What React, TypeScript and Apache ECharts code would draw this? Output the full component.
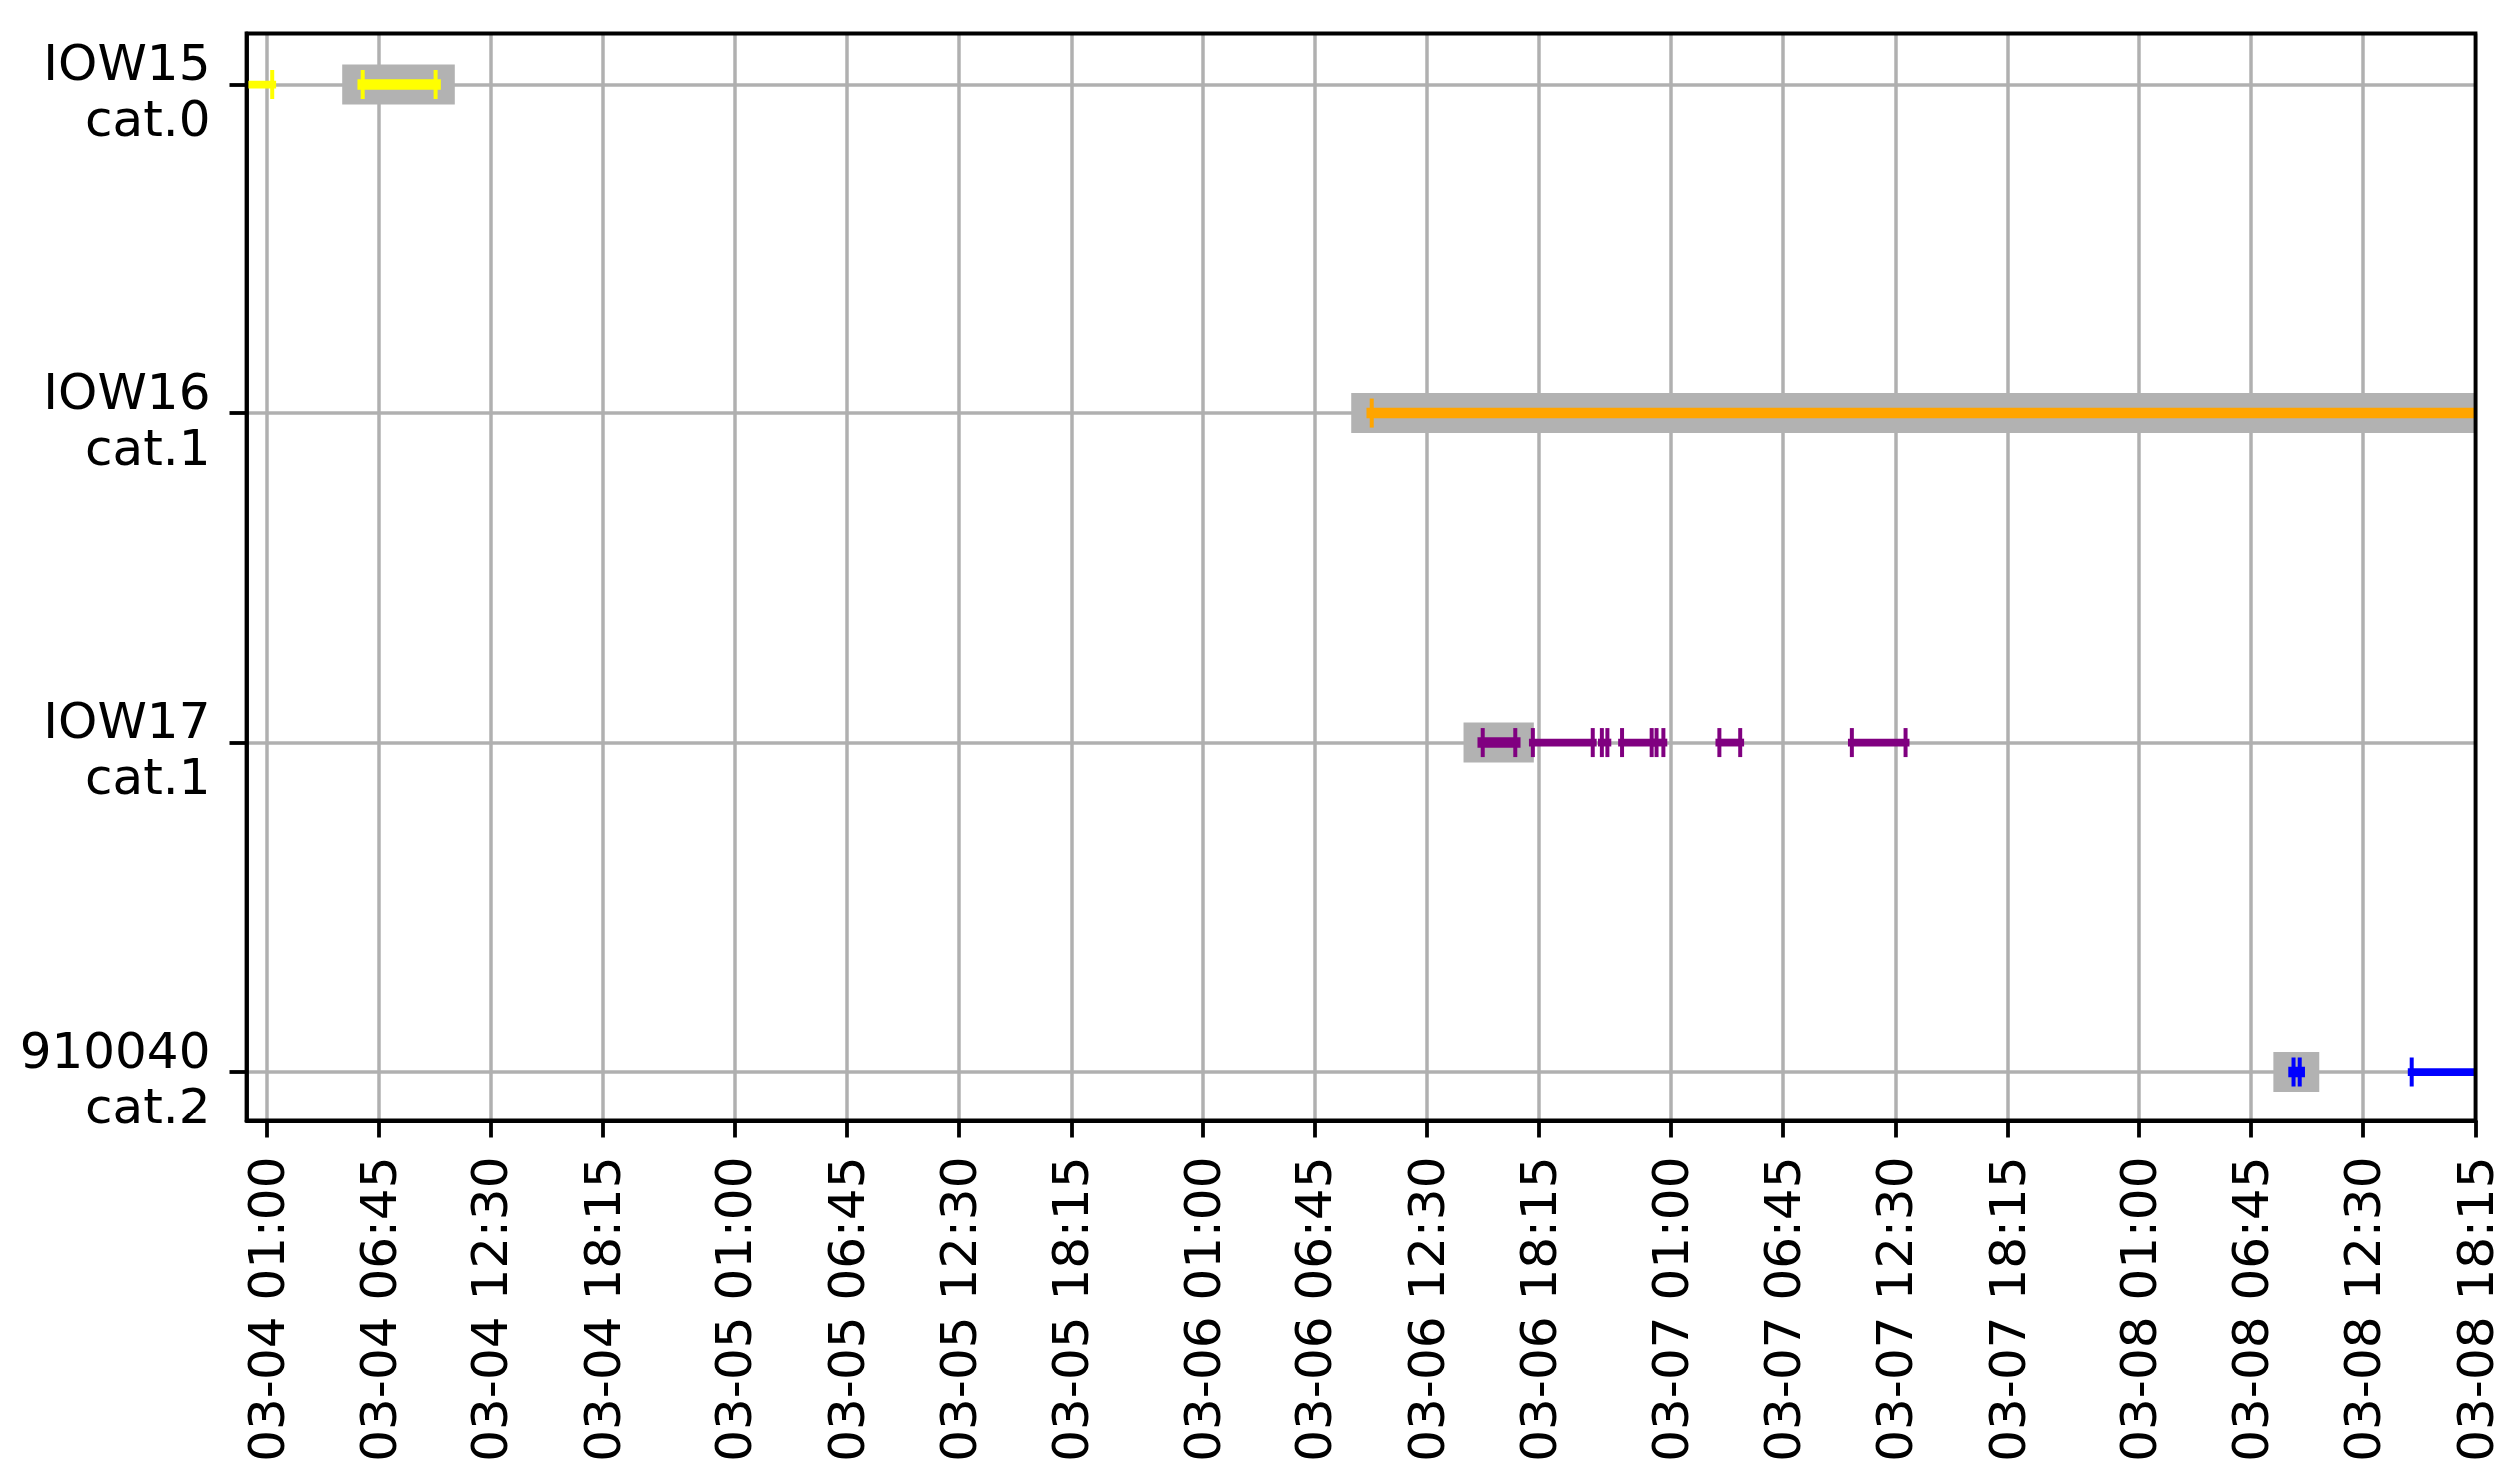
import React, { useEffect, useRef } from "react";
import * as echarts from "echarts";

// ---- data ----
const rowNames = ["IOW15", "IOW16", "IOW17", "910040"];
const rowCats = ["cat.0", "cat.1", "cat.1", "cat.2"];
const rowColors = ["#ffff00", "#ffa500", "#800080", "#0000ff"];

// time window of the x axis
const xStart = "03-03 23:58";
const xEnd = "03-08 18:15";

// tick labels on the time axis
const xTickLabels = [
  "03-04 01:00", "03-04 06:45", "03-04 12:30", "03-04 18:15",
  "03-05 01:00", "03-05 06:45", "03-05 12:30", "03-05 18:15",
  "03-06 01:00", "03-06 06:45", "03-06 12:30", "03-06 18:15",
  "03-07 01:00", "03-07 06:45", "03-07 12:30", "03-07 18:15",
  "03-08 01:00", "03-08 06:45", "03-08 12:30", "03-08 18:15",
];

// row index, start, end of each active interval
const segRows = [0, 0, 1, 2, 2, 2, 2, 2, 2, 2, 3, 3];
const segStarts = [
  "03-03 23:40", "03-04 05:55",
  "03-06 09:41",
  "03-06 15:22", "03-06 17:56", "03-06 21:28", "03-06 22:30", "03-07 00:16", "03-07 03:29", "03-07 10:16",
  "03-08 08:56", "03-08 14:59",
];
const segEnds = [
  "03-04 01:17", "03-04 09:42",
  "03-08 21:00",
  "03-06 17:02", "03-06 21:00", "03-06 21:45", "03-07 00:01", "03-07 00:37", "03-07 04:33", "03-07 13:01",
  "03-08 09:15", "03-08 21:00",
];

// highlighted windows (grey boxes)
const hlRows = [0, 1, 2, 3];
const hlStarts = ["03-04 04:52", "03-06 08:38", "03-06 14:23", "03-08 07:54"];
const hlEnds = ["03-04 10:41", "03-08 22:00", "03-06 17:59", "03-08 10:15"];

// ---- helpers ----
const T = (s: string) => {
  const [md, hm] = s.split(" ");
  const [mo, d] = md.split("-").map(Number);
  const [h, m] = hm.split(":").map(Number);
  return Date.UTC(2021, mo - 1, d, h, m);
};
const pad = (n: number) => (n < 10 ? "0" + n : "" + n);
const fmt = (v: number) => {
  const d = new Date(v);
  return `${pad(d.getUTCMonth() + 1)}-${pad(d.getUTCDate())} ${pad(d.getUTCHours())}:${pad(d.getUTCMinutes())}`;
};

const FONT = "DejaVu Sans";
const FS = 50;

export default function App() {
  const ref = useRef<HTMLDivElement>(null);
  useEffect(() => {
    document.body.style.margin = "0";
    if (!ref.current) return;
    const chart = echarts.init(ref.current, null, { renderer: "svg" });

    const hlData = hlRows.map((r, i) => [T(hlStarts[i]), T(hlEnds[i]), r]);
    const segData = segRows.map((r, i) => {
      const s = T(segStarts[i]);
      const e = T(segEnds[i]);
      const inHl = hlData.some((h) => h[2] === r && s >= h[0] && e <= h[1]) ? 1 : 0;
      return [s, e, r, inHl];
    });
    const xTicks = xTickLabels.map(T);
    const yTicks = rowNames.map((_, i) => i);

    chart.setOption({
      animation: false,
      backgroundColor: "#ffffff",
      grid: {
        left: 246.5,
        right: 38.5,
        top: 33.5,
        bottom: 363.5,
        containLabel: false,
        outerBoundsMode: "none",
      },
      xAxis: {
        type: "value",
        min: T(xStart),
        max: T(xEnd),
        axisLine: { show: true, onZero: false, lineStyle: { color: "#000", width: 3.8 } },
        axisTick: {
          show: true,
          customValues: xTicks,
          length: 17,
          lineStyle: { color: "#000", width: 3.8 },
        },
        axisLabel: {
          show: true,
          customValues: xTicks,
          formatter: (v: number) => fmt(v),
          rotate: 90,
          margin: 36,
          fontFamily: FONT,
          fontSize: FS,
          color: "#000",
        },
        splitLine: { show: true, lineStyle: { color: "#b0b0b0", width: 3.5 } },
      },
      yAxis: {
        type: "value",
        min: -0.155,
        max: 3.15,
        inverse: true,
        axisLine: { show: true, onZero: false, lineStyle: { color: "#000", width: 3.8 } },
        axisTick: {
          show: true,
          customValues: yTicks,
          length: 17,
          lineStyle: { color: "#000", width: 3.8 },
        },
        axisLabel: {
          show: true,
          customValues: yTicks,
          formatter: (v: number) => {
            const i = Math.round(v);
            if (rowNames[i] == null) return "";
            return `{s| }\n{t|${rowNames[i]}}\n{t|${rowCats[i]}}`;
          },
          margin: 36,
          align: "right",
          color: "#000",
          rich: {
            s: { fontSize: 2, lineHeight: 13, fontFamily: FONT },
            t: { fontSize: FS, lineHeight: 56, fontFamily: FONT, color: "#000", align: "right" },
          },
        },
        splitLine: { show: true, lineStyle: { color: "#b0b0b0", width: 3.5 } },
      },
      series: [
        {
          type: "custom",
          name: "highlight",
          z: 2,
          clip: true,
          silent: true,
          data: hlData,
          encode: { x: [0, 1], y: 2 },
          renderItem: (params: any, api: any) => {
            const row = api.value(2);
            const a = api.coord([api.value(0), row]);
            const b = api.coord([api.value(1), row]);
            return {
              type: "rect",
              shape: { x: a[0], y: a[1] - 20, width: b[0] - a[0], height: 40 },
              style: { fill: "#b2b2b2" },
            };
          },
        },
        {
          type: "custom",
          name: "segments",
          z: 3,
          clip: true,
          silent: true,
          data: segData,
          encode: { x: [0, 1], y: 2 },
          renderItem: (params: any, api: any) => {
            const row = api.value(2);
            const hl = api.value(3);
            const a = api.coord([api.value(0), row]);
            const b = api.coord([api.value(1), row]);
            const color = rowColors[row];
            const lw = hl ? 10.5 : 7.8;
            const cap = 14.5;
            return {
              type: "group",
              children: [
                {
                  type: "line",
                  shape: { x1: a[0], y1: a[1], x2: b[0], y2: b[1] },
                  style: { stroke: color, lineWidth: lw, lineCap: "square" },
                },
                {
                  type: "line",
                  shape: { x1: a[0], y1: a[1] - cap, x2: a[0], y2: a[1] + cap },
                  style: { stroke: color, lineWidth: 4 },
                },
                {
                  type: "line",
                  shape: { x1: b[0], y1: b[1] - cap, x2: b[0], y2: b[1] + cap },
                  style: { stroke: color, lineWidth: 4 },
                },
              ],
            };
          },
        },
        {
          type: "custom",
          name: "frame",
          z: 10,
          clip: false,
          silent: true,
          data: [[T(xStart), 0]],
          renderItem: (params: any) => {
            const cs = params.coordSys;
            return {
              type: "rect",
              shape: { x: cs.x, y: cs.y, width: cs.width, height: cs.height },
              style: { fill: "none", stroke: "#000", lineWidth: 3.8 },
            };
          },
        },
      ],
    });
    return () => chart.dispose();
  }, []);
  return <div ref={ref} style={{ width: 2517, height: 1486 }} />;
}
